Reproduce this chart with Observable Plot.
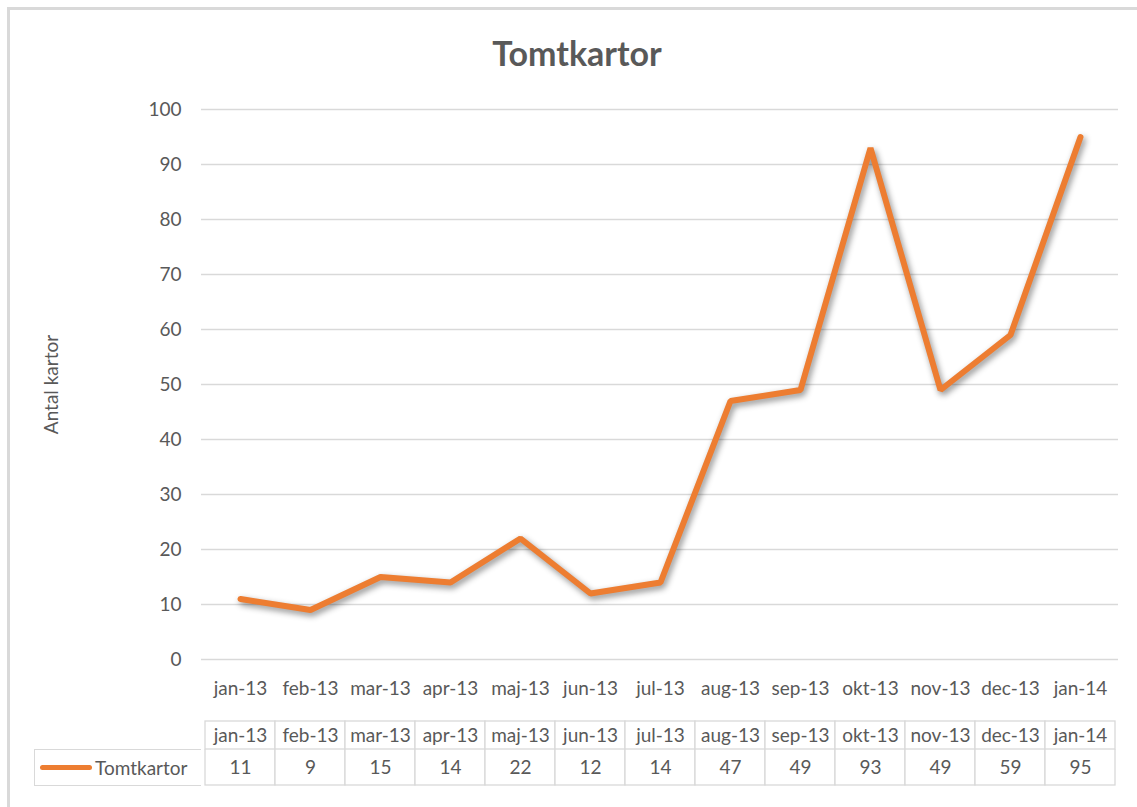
<!DOCTYPE html>
<html>
<head>
<meta charset="utf-8">
<script src="https://cdn.jsdelivr.net/npm/d3@7"></script>
<script src="https://cdn.jsdelivr.net/npm/@observablehq/plot@0.6"></script>
<style>
  body { margin: 0; background: #fff; }
  #wrap { position: relative; width: 1137px; height: 807px; overflow: hidden; background: #fff; font-family: Lato, sans-serif; color: #595959; }
  #frame { position: absolute; left: 7px; top: 7px; width: 1300px; height: 1000px; border: 3px solid #d9d9d9; box-sizing: border-box; }
  #title { position: absolute; left: 0; top: 36px; width: 1154px; text-align: center; font-size: 34px; line-height: 33px; font-weight: 700; color: #595959; }
  #chart { position: absolute; left: 0; top: 0; }
  #thead { position: absolute; left: 0; top: 700px; }
  #tbody { position: absolute; left: 0; top: 749px; }
  #chart g[aria-label="line"] { filter: drop-shadow(2px 3px 3px rgba(0,0,0,0.45)); }
  #legend { position: absolute; left: 34px; top: 749px; width: 167px; height: 37px; border: 1px solid #d9d9d9; border-right: none; box-sizing: border-box; font-size: 19px; line-height: 35px; }
  #legend .sw { position: absolute; left: 5px; top: 15px; width: 52px; height: 5px; border-radius: 3px; background: #ED7D31; }
  #legend .lb { position: absolute; left: 60px; top: 0; }
</style>
</head>
<body>
<div id="wrap">
  <div id="frame"></div>
  <div id="title"></div>
  <div id="chart"></div>
  <div id="thead"></div>
  <div id="tbody"></div>
  <div id="legend"><div class="sw"></div><div class="lb"></div></div>
</div>
<script>
const titleText = "Tomtkartor";
const yLabel = "Antal kartor";
const seriesName = "Tomtkartor";
const months = ["jan-13","feb-13","mar-13","apr-13","maj-13","jun-13","jul-13","aug-13","sep-13","okt-13","nov-13","dec-13","jan-14"];
const values = [11, 9, 15, 14, 22, 12, 14, 47, 49, 93, 49, 59, 95];
const yTicks = [0, 10, 20, 30, 40, 50, 60, 70, 80, 90, 100];

const data = months.map((m, i) => ({month: m, value: values[i]}));

document.getElementById("title").textContent = titleText;
document.querySelector("#legend .lb").textContent = seriesName;

const fontStyle = {fontFamily: "Lato, sans-serif", fontSize: "19px", color: "#595959", background: "transparent"};

const chart = Plot.plot({
  width: 1137,
  height: 700,
  marginTop: 109,
  marginBottom: 41,
  marginLeft: 201,
  marginRight: 19,
  style: fontStyle,
  x: {type: "point", domain: months, padding: 0.5},
  y: {domain: [0, 100]},
  marks: [
    Plot.ruleY(yTicks, {stroke: "#d9d9d9", strokeWidth: 1.3}),
    Plot.axisY({ticks: yTicks, tickSize: 0, tickPadding: 20, tickFormat: d => String(d), label: yLabel, labelAnchor: "center", labelArrow: "none", labelOffset: 157}),
    Plot.axisX({tickSize: 0, tickPadding: 22, label: null}),
    Plot.line(data, {x: "month", y: "value", stroke: "#ED7D31", strokeWidth: 6, strokeLinecap: "round", strokeLinejoin: "miter"})
  ]
});
document.getElementById("chart").appendChild(chart);

function tableRow(rows, opts) {
  return Plot.plot({
    width: 1137,
    marginLeft: 201,
    marginRight: 19,
    style: fontStyle,
    x: {type: "band", domain: months, padding: 0, axis: null},
    y: {type: "band", padding: 0, axis: null},
    ...opts,
    marks: [
      Plot.cell(rows, {x: "month", y: () => "r", fill: "white", stroke: "#d9d9d9", strokeWidth: 1.3}),
      Plot.text(rows, {x: "month", y: () => "r", text: "label", fill: "#595959"})
    ]
  });
}

const headerRows = months.map(m => ({month: m, label: m}));
const valueRows = data.map(d => ({month: d.month, label: String(d.value)}));

document.getElementById("thead").appendChild(tableRow(headerRows, {height: 50, marginTop: 21, marginBottom: 1}));
document.getElementById("tbody").appendChild(tableRow(valueRows, {height: 40, marginTop: 0, marginBottom: 4}));
</script>
</body>
</html>
